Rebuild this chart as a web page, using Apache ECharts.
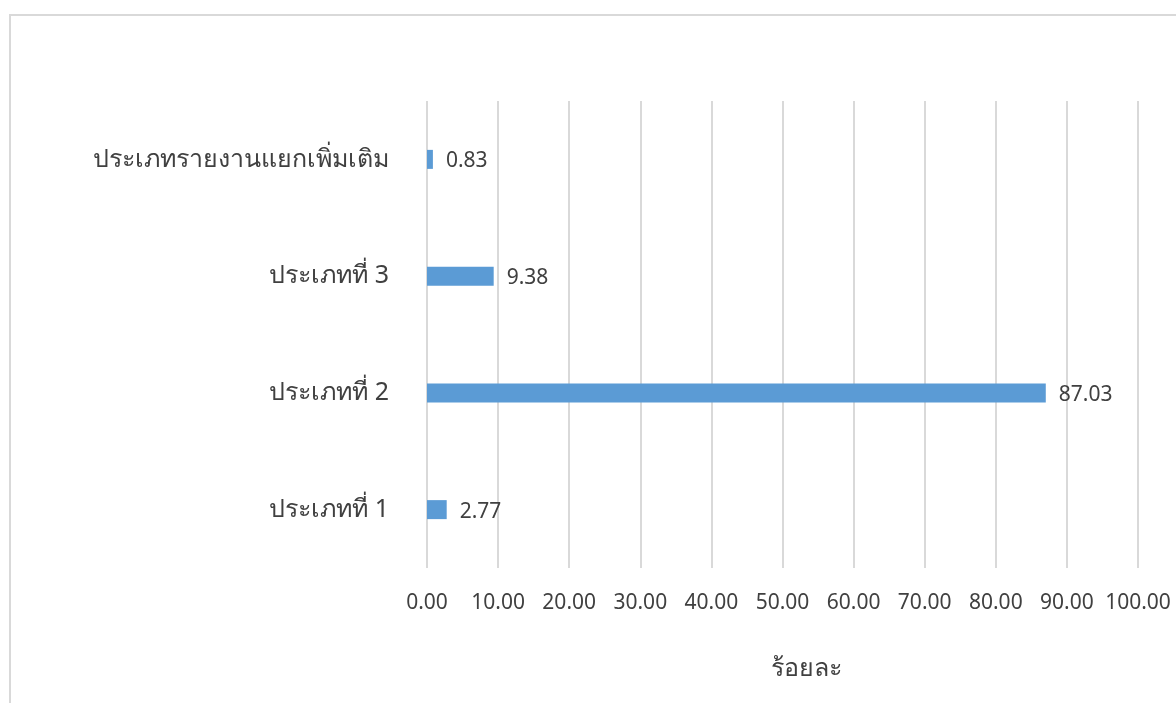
<!DOCTYPE html>
<html>
<head>
<meta charset="utf-8">
<script src="https://cdn.jsdelivr.net/npm/echarts@6/dist/echarts.min.js"></script>
<style>
  html, body { margin: 0; padding: 0; background: #fff; }
  #frame { position: absolute; left: 9px; top: 14px; width: 1200px; height: 720px;
           border-left: 2px solid #d9d9d9; border-top: 2px solid #d9d9d9; box-sizing: border-box; }
  #chart { position: absolute; left: 0; top: 0; width: 1176px; height: 703px; }
</style>
</head>
<body>
<div id="frame"></div>
<div id="chart"></div>
<script>
// Report types (bottom to top) and their share in percent
const categories = ['ประเภทที่ 1', 'ประเภทที่ 2', 'ประเภทที่ 3', 'ประเภทรายงานแยกเพิ่มเติม'];
const percentValues = [2.77, 87.03, 9.38, 0.83];
const axisTitle = 'ร้อยละ';

const textColor = '#404040';
const fontFamily = 'Tahoma, "Noto Sans", "DejaVu Sans", sans-serif';

const chart = echarts.init(document.getElementById('chart'), null, { renderer: 'canvas' });
chart.setOption({
  backgroundColor: 'transparent',
  animation: false,
  grid: { left: 427, right: 38, top: 101, bottom: 135, containLabel: false },
  xAxis: {
    type: 'value',
    min: 0,
    max: 100,
    interval: 10,
    name: axisTitle,
    nameLocation: 'middle',
    nameGap: 88,
    nameTextStyle: { color: textColor, fontSize: 25, fontFamily, padding: [0, 0, 0, 48] },
    axisLine: { show: false },
    axisTick: { show: false },
    axisLabel: {
      color: textColor, fontSize: 21, fontFamily, margin: 25,
      formatter: v => v.toFixed(2)
    },
    splitLine: { show: true, lineStyle: { color: '#d9d9d9', width: 2 } }
  },
  yAxis: {
    type: 'category',
    data: categories,
    axisLine: { show: false },
    axisTick: { show: false },
    axisLabel: { color: textColor, fontSize: 25, fontFamily, margin: 38 }
  },
  series: [{
    type: 'bar',
    data: percentValues,
    barWidth: 19,
    itemStyle: { color: '#5b9bd5' },
    label: {
      show: true,
      position: 'right',
      distance: 13,
      offset: [0, 2],
      color: textColor,
      fontSize: 21,
      fontFamily,
      formatter: p => p.value.toFixed(2)
    }
  }]
});
</script>
</body>
</html>
